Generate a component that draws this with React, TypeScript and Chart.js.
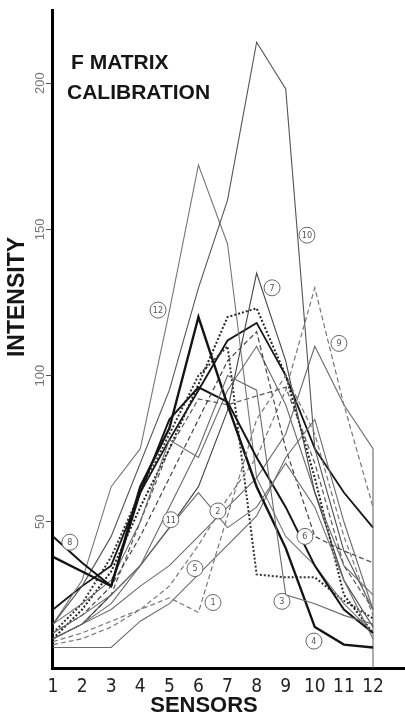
import React, { useEffect, useRef } from "react";
import { Chart, registerables } from "chart.js";
Chart.register(...registerables);

const sensors = [1, 2, 3, 4, 5, 6, 7, 8, 9, 10, 11, 12];
const yTickValues = [50, 100, 150, 200];

const s1 = [9, 12, 16, 20, 24, 19, 52, 85, 100, 80, 45, 18];
const s2 = [12, 18, 25, 35, 48, 60, 48, 55, 70, 55, 30, 10];
const s3 = [10, 15, 22, 35, 55, 75, 100, 95, 25, 22, 18, 15];
const s4 = [38, 33, 28, 62, 82, 120, 90, 62, 41, 14, 8, 7];
const s5 = [7, 7, 7, 16, 22, 32, 42, 52, 72, 85, 50, 20];
const s6 = [12, 18, 28, 45, 65, 85, 105, 115, 75, 45, 40, 36];
const s7 = [10, 15, 25, 35, 48, 62, 88, 135, 105, 60, 30, 14];
const s8 = [45, 36, 28, 60, 85, 96, 91, 72, 55, 35, 20, 12];
const s9 = [8, 10, 14, 20, 28, 42, 58, 72, 95, 130, 90, 55];
const s10 = [15, 28, 45, 70, 95, 130, 160, 214, 198, 75, 40, 20];
const s11 = [15, 22, 30, 50, 78, 72, 95, 110, 90, 60, 35, 25];
const s12 = [15, 30, 62, 75, 122, 172, 145, 65, 45, 35, 22, 12];
const s13 = [10, 20, 33, 55, 75, 97, 120, 123, 100, 65, 25, 12];
const s14 = [12, 22, 38, 60, 80, 100, 110, 32, 31, 31, 23, 17];
const s15 = [10, 15, 20, 28, 35, 45, 55, 65, 80, 110, 90, 75];
const s16 = [10, 15, 25, 50, 75, 92, 90, 93, 96, 70, 35, 20];
const s17 = [20, 28, 35, 60, 78, 95, 112, 118, 100, 75, 60, 48];

const labelNames = ["1", "2", "3", "4", "5", "6", "7", "8", "9", "10", "11", "12"];
const labelX = [6.5, 6.67, 8.87, 9.97, 5.88, 9.66, 8.53, 1.58, 10.83, 9.73, 5.05, 4.61];
const labelY = [22.4, 53.7, 22.8, 9.2, 34, 45, 130, 43, 111, 148, 50.7, 122.4];

const toPts = (arr: number[]) => sensors.map((x, i) => ({ x, y: arr[i] }));

const thin = { borderColor: "#6a6a6a", borderWidth: 1.1 };
const thick = { borderColor: "#141414", borderWidth: 2.4 };
const dashed = { borderColor: "#777", borderWidth: 1.2, borderDash: [5, 3] };
const dotted = { borderColor: "#222", borderWidth: 2, borderDash: [2, 2] };

export default function App() {
  const ref = useRef<HTMLCanvasElement>(null);
  useEffect(() => {
    document.body.style.margin = "0";
    const canvas = ref.current!;
    const overlay = {
      id: "overlay",
      afterDatasetsDraw(chart: any) {
        const ctx = chart.ctx;
        const xs = chart.scales.x;
        const ys = chart.scales.y;
        ctx.save();
        for (let i = 0; i < labelNames.length; i++) {
          const px = xs.getPixelForValue(labelX[i]);
          const py = ys.getPixelForValue(labelY[i]);
          ctx.beginPath();
          ctx.arc(px, py, 8, 0, Math.PI * 2);
          ctx.fillStyle = "#fff";
          ctx.fill();
          ctx.lineWidth = 1;
          ctx.strokeStyle = "#666";
          ctx.stroke();
          ctx.fillStyle = "#555";
          ctx.font = "9px 'DejaVu Sans Condensed', 'Liberation Sans', sans-serif";
          ctx.textAlign = "center";
          ctx.textBaseline = "middle";
          ctx.fillText(labelNames[i], px, py + 0.5);
        }
        ctx.fillStyle = "#777";
        ctx.font = "13px 'Liberation Sans', sans-serif";
        for (const v of yTickValues) {
          const py = ys.getPixelForValue(v);
          ctx.save();
          ctx.translate(40, py);
          ctx.rotate(-Math.PI / 2);
          ctx.textAlign = "center";
          ctx.textBaseline = "middle";
          ctx.fillText(String(v), 0, 0);
          ctx.restore();
        }
        ctx.fillStyle = "#161616";
        ctx.font = "bold 23px 'Liberation Sans', sans-serif";
        ctx.save();
        ctx.translate(18, 297);
        ctx.rotate(-Math.PI / 2);
        ctx.textAlign = "center";
        ctx.textBaseline = "middle";
        ctx.fillText("INTENSITY", 0, 0);
        ctx.restore();
        ctx.font = "bold 22px 'Liberation Sans', sans-serif";
        ctx.textAlign = "center";
        ctx.textBaseline = "middle";
        ctx.fillText("SENSORS", 204, 706);
        ctx.font = "bold 21px 'Liberation Sans', sans-serif";
        ctx.textAlign = "left";
        ctx.textBaseline = "alphabetic";
        ctx.fillText("F MATRIX", 71, 69);
        ctx.fillText("CALIBRATION", 67, 99);
        ctx.restore();
      },
    };
    const chart = new Chart(canvas, {
      type: "line",
      data: {
        datasets: [
          { label: "1", data: toPts(s1), ...dashed },
          { label: "2", data: toPts(s2), ...thin },
          { label: "3", data: toPts(s3), ...thin },
          { label: "4", data: toPts(s4), ...thick },
          { label: "5", data: toPts(s5), ...thin },
          { label: "6", data: toPts(s6), ...dashed, borderColor: "#444" },
          { label: "7", data: toPts(s7), ...thin, borderColor: "#444" },
          { label: "8", data: toPts(s8), ...thick, borderWidth: 2 },
          { label: "9", data: toPts(s9), ...dashed },
          { label: "10", data: toPts(s10), ...thin, borderColor: "#555" },
          { label: "11", data: toPts(s11), ...thin },
          { label: "12", data: toPts(s12), ...thin, borderColor: "#777" },
          { label: "13", data: toPts(s13), ...dotted },
          { label: "14", data: toPts(s14), ...dotted, borderColor: "#333" },
          { label: "15", data: [...toPts(s15), { x: 12, y: 0 }], ...thin },
          { label: "16", data: toPts(s16), ...dashed, borderColor: "#555" },
          { label: "17", data: toPts(s17), ...thick, borderWidth: 1.8 },
        ].map((d) => ({ ...d, pointRadius: 0, fill: false, tension: 0 })),
      },
      options: {
        responsive: false,
        animation: false,
        devicePixelRatio: 1,
        layout: { padding: { top: 10, right: 0, left: 0, bottom: 0 } },
        plugins: { legend: { display: false }, tooltip: { enabled: false } },
        scales: {
          x: {
            type: "linear",
            min: 0.966,
            max: 13.1,
            afterBuildTicks: (s: any) => {
              s.ticks = sensors.map((v) => ({ value: v }));
            },
            afterFit: (s: any) => {
              s.height = 52;
            },
            ticks: {
              autoSkip: false,
              maxRotation: 0,
              color: "#222",
              padding: 8,
              font: { family: "'DejaVu Sans Condensed', 'Liberation Sans Narrow', sans-serif", size: 19 },
            },
            grid: { drawOnChartArea: false, drawTicks: false },
            border: { display: true, color: "#000", width: 3 },
          },
          y: {
            min: 0,
            max: 225,
            afterBuildTicks: (s: any) => {
              s.ticks = yTickValues.map((v) => ({ value: v }));
            },
            afterFit: (s: any) => {
              s.width = 52;
            },
            ticks: { display: false },
            grid: { drawOnChartArea: false, drawTicks: true, tickLength: 6, tickColor: "#555" },
            border: { display: true, color: "#000", width: 3 },
          },
        },
      },
      plugins: [overlay],
    });
    return () => chart.destroy();
  }, []);
  return (
    <div style={{ width: 405, height: 720, background: "#fff" }}>
      <canvas ref={ref} width={405} height={720} style={{ display: "block" }} />
    </div>
  );
}
